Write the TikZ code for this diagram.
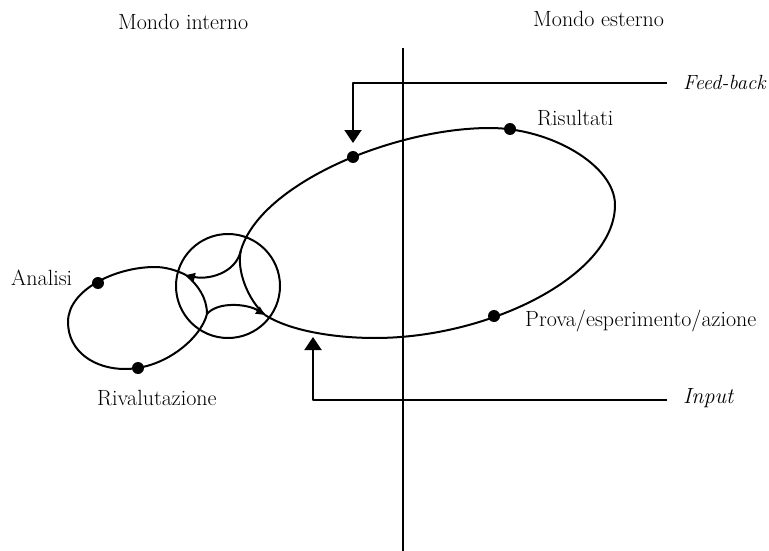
\documentclass[tikz,border=0pt]{standalone}
\usetikzlibrary{arrows.meta}
\begin{document}
\begin{tikzpicture}[x=1pt,y=-1pt,
  ln/.style={line width=2pt,line join=round},
  blob/.style={circle,fill=black,inner sep=0pt,minimum size=12pt},
  lbl/.style={font=\fontsize{22}{26}\selectfont,anchor=base west,inner sep=0pt},
  bigarrow/.style={-{Triangle[length=13pt,width=17pt]}},
  smallarrow/.style={-{Triangle[length=9pt,width=8pt]}}]
\useasboundingbox (0,0) rectangle (769,551);

% vertical divider
\coordinate (vTop) at (403,48);
\coordinate (vBot) at (403,551);
\draw[ln] (vTop) -- (vBot);

% junction circle and cusps
\coordinate (C) at (228,286);
\coordinate (Tc) at (241,250);
\coordinate (Lc) at (186,275);
\coordinate (Bc) at (207,314);
\coordinate (Rc) at (265,315);
\draw[ln] (C) circle[radius=52pt];

% inner arcs
\draw[ln,smallarrow] (Tc) .. controls (236,274) and (207,280) .. (Lc);
\draw[ln] (Lc) .. controls (198,285) and (207,298) .. (Bc);
\draw[ln,smallarrow] (Bc) .. controls (218,301) and (248,304) .. (Rc);
\draw[ln] (Rc) .. controls (248,300) and (236,270) .. (Tc);

% big loop
\coordinate (P1) at (353,157);
\coordinate (Top) at (490,128);
\coordinate (Rt) at (615,205);
\coordinate (Bot) at (375,338);
\draw[ln] (Tc) .. controls (254,207) and (311,174) .. (P1)
  .. controls (395,140) and (445,128) .. (Top)
  .. controls (550,128) and (615,165) .. (Rt)
  .. controls (615,275) and (490,338) .. (Bot)
  .. controls (335,338) and (290,331) .. (Rc);

% small loop
\coordinate (sTop) at (155,267);
\coordinate (sLeft) at (68,322);
\coordinate (sBot) at (125,369);
\draw[ln] (Lc) .. controls (176,270) and (165,267) .. (sTop)
  .. controls (115,267) and (68,290) .. (sLeft)
  .. controls (68,352) and (95,369) .. (sBot)
  .. controls (165,369) and (201,338) .. (Bc);

% dots
\node[blob] (dFb) at (353,157) {};
\node[blob] (dRis) at (510,129) {};
\node[blob] (dPro) at (494,316) {};
\node[blob] (dAna) at (98,283) {};
\node[blob] (dRiv) at (138,368) {};

% feed-back and input arrows
\coordinate (fbR) at (667,83);
\coordinate (fbTip) at (353,143);
\draw[ln,bigarrow] (fbR) -| (fbTip);
\coordinate (inR) at (667,400);
\coordinate (inTip) at (313,337);
\draw[ln,bigarrow] (inR) -| (inTip);

% labels
\node[lbl] (tInt) at (118,30) {Mondo interno};
\node[lbl] (tEst) at (533,27) {Mondo esterno};
\node[lbl,font=\fontsize{20.5}{24}\selectfont\itshape] (tFb) at (683,90) {Feed-back};
\node[lbl] (tRis) at (537,125) {Risultati};
\node[lbl] (tAna) at (11,285) {Analisi};
\node[lbl] (tPro) at (525,326) {Prova/esperimento/azione};
\node[lbl] (tRiv) at (97,405) {Rivalutazione};
\node[lbl] (tIn) at (683,403) {\itshape Input};
\end{tikzpicture}
\end{document}
